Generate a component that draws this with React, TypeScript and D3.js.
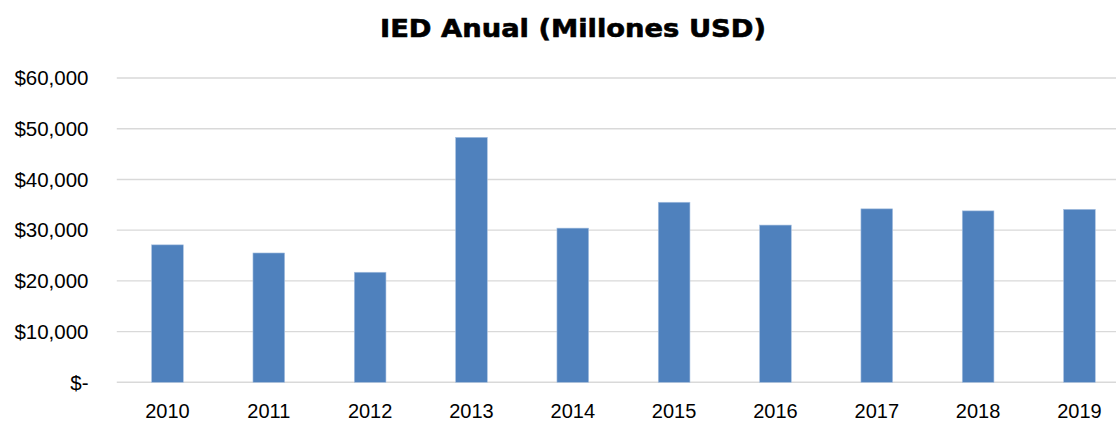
import React from "react";
import * as d3 from "d3";

const years = ["2010", "2011", "2012", "2013", "2014", "2015", "2016", "2017", "2018", "2019"];
const values = [27100, 25500, 21700, 48300, 30400, 35500, 31000, 34200, 33800, 34100];
const yTicks = [0, 10000, 20000, 30000, 40000, 50000, 60000];
const title = "IED Anual (Millones USD)";

const W = 1116;
const H = 421;

export default function App() {
  const x = d3
    .scaleBand<string>()
    .domain(years)
    .range([116.8, 1130.1])
    .paddingInner(0.6875)
    .paddingOuter(0.34375);
  const y = d3.scaleLinear().domain([0, 60000]).range([382.3, 78]);
  const fmt = (v: number) => (v === 0 ? "$-" : "$" + d3.format(",")(v));

  return (
    <svg
      width={W}
      height={H}
      style={{ position: "absolute", left: 0, top: 0, background: "#fff" }}
      fontFamily="'Liberation Sans', Arial, sans-serif"
    >
      <rect width={W} height={H} fill="#fff" />
      <text
        x={573}
        y={36.5}
        textAnchor="middle"
        fontSize={25}
        fontWeight="bold"
        fontFamily="'DejaVu Sans', 'Liberation Sans', sans-serif"
        textLength={386}
        lengthAdjust="spacingAndGlyphs"
        fill="#000"
        stroke="#000"
        strokeWidth={0.6}
      >
        {title}
      </text>
      {yTicks.map((t) => (
        <g key={t}>
          <line x1={116.8} x2={1130} y1={y(t)} y2={y(t)} stroke="#d9d9d9" strokeWidth={1.4} />
          <text x={88.5} y={y(t) + 7.3} textAnchor="end" fontSize={20.5} fill="#000">
            {fmt(t)}
          </text>
        </g>
      ))}
      {years.map((yr, i) => (
        <rect
          key={yr}
          x={x(yr)}
          y={y(values[i])}
          width={x.bandwidth()}
          height={y(0) - y(values[i])}
          fill="#4f81bd"
          stroke="#a7c0e0"
          strokeWidth={0.6}
        />
      ))}
      {years.map((yr) => (
        <text
          key={yr}
          x={(x(yr) as number) + x.bandwidth() / 2}
          y={417.5}
          textAnchor="middle"
          fontSize={20}
          fill="#000"
        >
          {yr}
        </text>
      ))}
    </svg>
  );
}
